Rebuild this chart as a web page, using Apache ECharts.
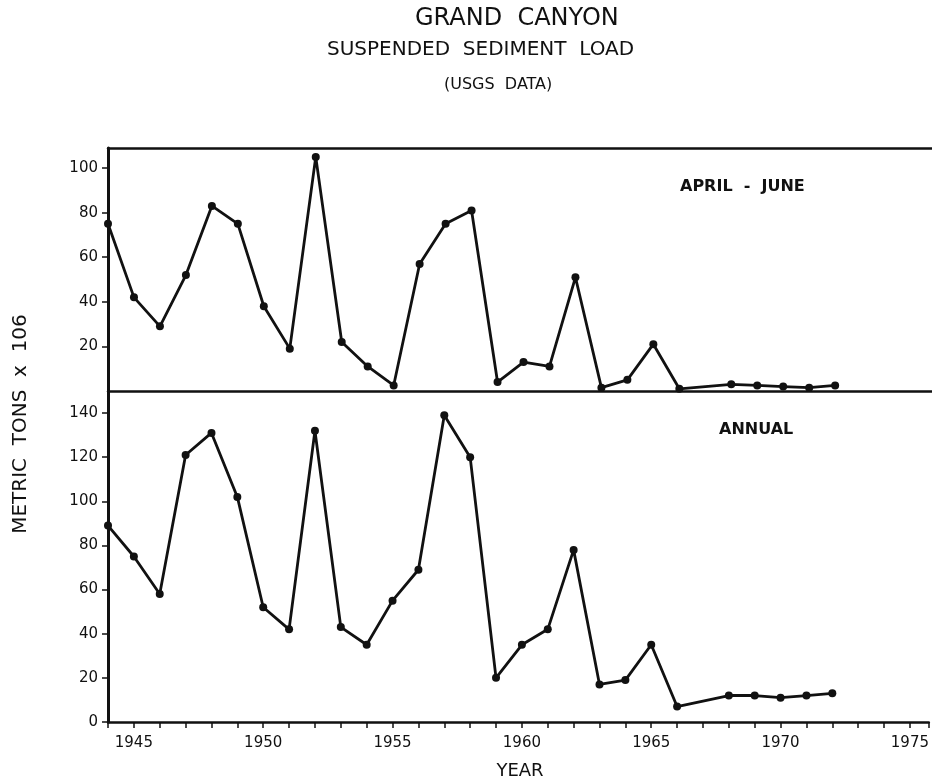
<!DOCTYPE html>
<html>
<head>
<meta charset="utf-8">
<title>Grand Canyon suspended sediment load</title>
<script src="https://cdn.jsdelivr.net/npm/echarts@6.0.0/dist/echarts.min.js"></script>
<style>
  html, body { margin: 0; padding: 0; background: #fff; }
  #chart { width: 932px; height: 782px; }
</style>
</head>
<body>
<div id="chart"></div>
<script>
// years with data (no point for 1967)
const years = [1944, 1945, 1946, 1947, 1948, 1949, 1950, 1951, 1952, 1953, 1954, 1955, 1956, 1957,
  1958, 1959, 1960, 1961, 1962, 1963, 1964, 1965, 1966, 1968, 1969, 1970, 1971, 1972];
// April - June load, metric tons x 10^6
const aprilJune = [75, 42, 29, 52, 83, 75, 38, 19, 105, 22, 11, 2.5, 57, 75,
  81, 4, 13, 11, 51, 1.5, 5, 21, 1, 3, 2.5, 2, 1.5, 2.5];
// annual load
const annual = [89, 75, 58, 121, 131, 102, 52, 42, 132, 43, 35, 55, 69, 139,
  120, 20, 35, 42, 78, 17, 19, 35, 7, 12, 12, 11, 12, 13];
const yTicksTop = [20, 40, 60, 80, 100];
const yTicksBottom = [0, 20, 40, 60, 80, 100, 120, 140];

const font = "DejaVu Sans";
const ink = "#111";

function pairs(vals) {
  return years.map((y, i) => [y, vals[i]]);
}

// frame lines (top, middle) are plain axis lines; no right edge in the picture
function frameAxis(gridIndex, position, width) {
  return {
    type: "value",
    gridIndex: gridIndex,
    position: position,
    min: 1944,
    max: 1975.73,
    splitLine: { show: false },
    axisLine: { show: true, onZero: false, lineStyle: { color: ink, width: width } },
    axisTick: { show: false },
    axisLabel: { show: false },
  };
}

function yAxis(gridIndex, max, ticks) {
  return {
    type: "value",
    gridIndex: gridIndex,
    min: 0,
    max: max,
    interval: 20,
    splitLine: { show: false },
    axisLine: { show: true, lineStyle: { color: ink, width: 3 } },
    axisTick: { show: true, length: 6, customValues: ticks, lineStyle: { color: ink, width: 1.5 } },
    axisLabel: {
      margin: 10,
      color: ink,
      fontFamily: font,
      fontSize: 15,
      customValues: ticks,
    },
  };
}

function lineSeries(idx, vals) {
  return {
    type: "line",
    xAxisIndex: idx,
    yAxisIndex: idx,
    data: pairs(vals),
    clip: false,
    symbol: "circle",
    symbolSize: 8,
    lineStyle: { color: ink, width: 2.8 },
    itemStyle: { color: ink },
  };
}

let myChart = echarts.init(document.getElementById("chart"));

myChart.setOption({
  backgroundColor: "#fff",
  animation: false,
  grid: [
    { left: 108, right: 0, top: 148, height: 243 },
    { left: 108, right: 0, top: 391, height: 331 },
  ],
  xAxis: [
    frameAxis(0, "bottom", 2.5),
    {
      type: "value",
      gridIndex: 1,
      position: "bottom",
      min: 1944,
      max: 1975.73,
      interval: 1,
      splitLine: { show: false },
      axisLine: { show: true, onZero: false, lineStyle: { color: ink, width: 2.5 } },
      axisTick: { show: true, length: 6, lineStyle: { color: ink, width: 1.5 } },
      axisLabel: {
        margin: 14,
        color: ink,
        fontFamily: font,
        fontSize: 15,
        formatter: (v) => (v % 5 === 0 ? String(v) : ""),
      },
    },
    frameAxis(0, "top", 2.5),
  ],
  yAxis: [yAxis(0, 109, yTicksTop), yAxis(1, 150, yTicksBottom)],
  series: [lineSeries(0, aprilJune), lineSeries(1, annual)],
  graphic: [
    {
      type: "text", x: 415, y: 19,
      style: { text: "GRAND  CANYON", fill: ink, font: "24px " + font, textAlign: "left", textVerticalAlign: "middle", verticalAlign: "middle" },
    },
    {
      type: "text", x: 327, y: 50,
      style: { text: "SUSPENDED  SEDIMENT  LOAD", fill: ink, font: "20px " + font, textAlign: "left", textVerticalAlign: "middle", verticalAlign: "middle" },
    },
    {
      type: "text", x: 444, y: 85,
      style: { text: "(USGS  DATA)", fill: ink, font: "16px " + font, textAlign: "left", textVerticalAlign: "middle", verticalAlign: "middle" },
    },
    {
      type: "text", x: 680, y: 187,
      style: { text: "APRIL  -  JUNE", fill: ink, font: "bold 16px " + font, textAlign: "left", textVerticalAlign: "middle", verticalAlign: "middle" },
    },
    {
      type: "text", x: 719, y: 430,
      style: { text: "ANNUAL", fill: ink, font: "bold 16px " + font, textAlign: "left", textVerticalAlign: "middle", verticalAlign: "middle" },
    },
    {
      type: "text", x: 520, y: 771,
      style: { text: "YEAR", fill: ink, font: "18px " + font, textAlign: "center", textVerticalAlign: "middle", verticalAlign: "middle" },
    },
    {
      type: "text", x: 21, y: 424, rotation: Math.PI / 2,
      style: { text: "METRIC  TONS  x  106", fill: ink, font: "20px " + font, textAlign: "center", textVerticalAlign: "middle", verticalAlign: "middle" },
    },
  ],
});
</script>
</body>
</html>
